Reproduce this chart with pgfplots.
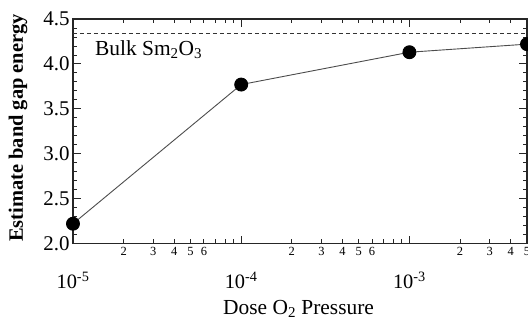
\documentclass[border=0pt]{standalone}
\usepackage{fontspec}
\setmainfont{Liberation Serif}
\usepackage{pgfplots}
\pgfplotsset{compat=1.18}
\usetikzlibrary{calc}
\begin{document}
\begin{tikzpicture}
\begin{axis}[
 scale only axis, width=454bp, height=224.5bp,
 xmode=log, xmin=1e-5, xmax=5e-3, ymin=2, ymax=4.5,
 clip=false,
 axis line style={line width=1.2bp, black!85},
 tick align=inside,
 tick style={black!85, line width=0.8bp},
 major tick length=8bp, minor tick length=4.5bp,
 xtick={1e-5,1e-4,1e-3},
 xticklabels={10\textsuperscript{-5},10\textsuperscript{-4},10\textsuperscript{-3}},
 xticklabel style={font=\fontsize{20.5}{20.5}\selectfont, yshift=-25bp},
 minor xtick={2e-5,3e-5,4e-5,5e-5,6e-5,7e-5,8e-5,9e-5,2e-4,3e-4,4e-4,5e-4,6e-4,7e-4,8e-4,9e-4,2e-3,3e-3,4e-3},
 extra x ticks={2e-5,3e-5,4e-5,5e-5,6e-5,2e-4,3e-4,4e-4,5e-4,6e-4,2e-3,3e-3,4e-3,5e-3},
 extra x tick labels={2,3,4,5,6,2,3,4,5,6,2,3,4,5},
 extra x tick style={major tick length=4.5bp, xticklabel style={yshift=25bp, font=\fontsize{12.5}{12.5}\selectfont}},
 ytick={2,2.5,3,3.5,4,4.5},
 minor y tick num=4,
 yticklabel style={font=\fontsize{21}{21}\selectfont},
 /pgf/number format/.cd, fixed, fixed zerofill, precision=1, assume math mode=true,
 /pgfplots/.cd,
 xlabel={Dose O\textsubscript{2} Pressure},
 xlabel style={font=\fontsize{21.5}{21.5}\selectfont, at={(axis description cs:0.497,0)}, anchor=base, yshift=-71bp},
 ylabel={\textbf{Estimate band gap energy}},
 ylabel style={font=\fontsize{20.5}{20.5}\selectfont, at={(axis description cs:-0.121,0.515)}, anchor=center},
]
\addplot[black!80, line width=1.2bp, dash pattern=on 4bp off 3bp] coordinates {(1e-5,4.34) (5e-3,4.34)};
\addplot[black!70, line width=0.9bp, mark=*, mark size=6.5bp, mark options={fill=black, draw=black}] coordinates {
 (1e-5,2.22) (1e-4,3.77) (1e-3,4.13) (5e-3,4.22)};
\node[anchor=base west, font=\fontsize{21.5}{21.5}\selectfont, inner sep=0pt] at (axis cs:1.35e-5,4.09) {Bulk Sm\textsubscript{2}O\textsubscript{3}};
\end{axis}
\pgfresetboundingbox
\path[use as bounding box] ($(current axis.south west)+(-73bp,-76.5bp)$) rectangle ($(current axis.north east)+(1bp,19bp)$);
\end{tikzpicture}
\end{document}
